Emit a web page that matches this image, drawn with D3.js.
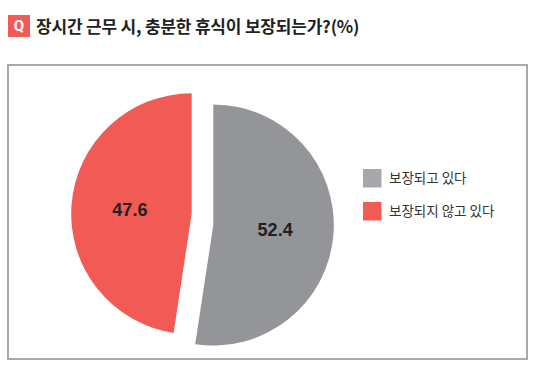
<!DOCTYPE html>
<html>
<head>
<meta charset="utf-8">
<script src="https://cdn.jsdelivr.net/npm/d3@7"></script>
<style>
  html, body { margin: 0; padding: 0; background: #fff; }
  svg { display: block; }
</style>
</head>
<body>
<div id="chart"></div>
<script>
    const titleText = '장시간 근무 시, 충분한 휴식이 보장되는가?(%)';
    const categories = ['보장되고 있다', '보장되지 않고 있다'];
    const values = [52.4, 47.6];
    const pieColors = ['#939598', '#f15a55'];
    const legendColors = ['#a7a8ab', '#f15a55'];

    const width = 539;
    const height = 376;

    const svg = d3.select('#chart')
        .append('svg')
        .attr('width', width)
        .attr('height', height);

    // title with the red Q badge
    svg.append('rect')
        .attr('x', 8).attr('y', 15)
        .attr('width', 22).attr('height', 22)
        .attr('fill', '#f15a55');

    svg.append('text')
        .attr('x', 19).attr('y', 31)
        .attr('text-anchor', 'middle')
        .style('font-family', 'Roboto, "Liberation Sans", sans-serif')
        .style('font-weight', 700)
        .style('font-size', '15px')
        .attr('fill', '#fff')
        .text('Q');

    svg.append('text')
        .attr('x', 36).attr('y', 33)
        .style('font-family', '"Noto Sans CJK KR", sans-serif')
        .style('font-weight', 700)
        .style('font-size', '17px')
        .style('letter-spacing', '-0.2px')
        .attr('fill', '#231f20')
        .text(titleText);

    // frame
    svg.append('rect')
        .attr('x', 8).attr('y', 65)
        .attr('width', 519).attr('height', 294)
        .attr('fill', 'none')
        .attr('stroke', '#a7a9ac')
        .attr('stroke-width', 2);

    // pie
    const center = { x: 202.5, y: 219.4 };
    const radius = 120.5;
    const labelR = 62;
    const explode = [[10.8, 5.6], [-10.8, -5.6]];

    const pie = d3.pie().sort(null).value(d => d);
    const arcs = pie(values);
    const arc = d3.arc().innerRadius(0).outerRadius(radius);
    const labelArc = d3.arc().innerRadius(labelR).outerRadius(labelR);

    const slices = svg.append('g')
        .attr('transform', `translate(${center.x},${center.y})`)
        .selectAll('g')
        .data(arcs)
        .enter()
        .append('g')
        .attr('transform', (d, i) => `translate(${explode[i][0]},${explode[i][1]})`);

    slices.append('path')
        .attr('d', arc)
        .attr('fill', (d, i) => pieColors[i]);

    slices.append('text')
        .attr('transform', d => `translate(${labelArc.centroid(d)})`)
        .attr('text-anchor', 'middle')
        .attr('dy', '0.36em')
        .style('font-family', '"Liberation Sans", Arial, sans-serif')
        .style('font-weight', 700)
        .style('font-size', '18px')
        .attr('fill', '#231f20')
        .text(d => d.data.toFixed(1));

    // legend
    const legend = svg.append('g')
        .attr('transform', 'translate(363,169)');

    const items = legend.selectAll('g')
        .data(categories)
        .enter()
        .append('g')
        .attr('transform', (d, i) => `translate(0,${i * 33})`);

    items.append('rect')
        .attr('width', 18.5).attr('height', 18.5)
        .attr('fill', (d, i) => legendColors[i]);

    items.append('text')
        .attr('x', 26).attr('y', 9.5)
        .attr('dy', '0.35em')
        .style('font-family', '"Noto Sans CJK KR", sans-serif')
        .style('font-size', '13.5px')
        .attr('fill', '#333')
        .text(d => d);
</script>
</body>
</html>
